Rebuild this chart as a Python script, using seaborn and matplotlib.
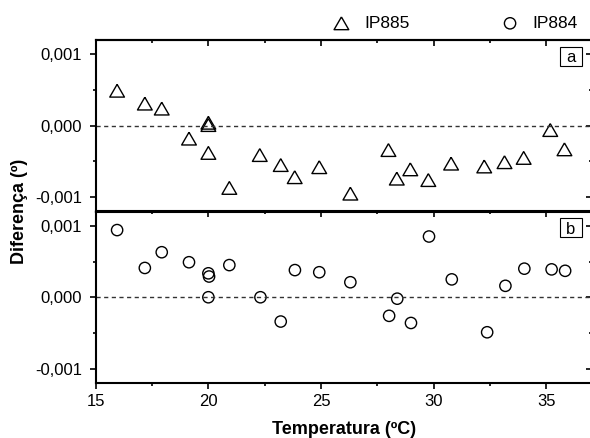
import numpy as np
import pandas as pd
import matplotlib
matplotlib.use("Agg")
import matplotlib.pyplot as plt
from matplotlib.patches import Rectangle
from matplotlib.ticker import MultipleLocator, FuncFormatter
import seaborn as sns

# valores
temp_885 = [15.95, 17.18, 17.93, 19.14, 20.0, 20.0, 20.0, 20.93, 22.28, 23.21, 23.83, 24.92,
            26.30, 27.99, 28.36, 28.96, 29.76, 30.77, 32.24, 33.14, 33.99, 35.17, 35.80]
dif_885 = [0.00049, 0.00031, 0.00024, -0.00018, 0.000042, 0.00001, -0.00038, -0.00087,
           -0.00041, -0.00055, -0.00072, -0.00058, -0.00095, -0.00034, -0.00074, -0.00061,
           -0.00076, -0.00053, -0.00057, -0.00051, -0.00045, -0.00006, -0.00033]
temp_884 = [15.95, 17.18, 17.93, 19.14, 20.0, 20.03, 20.0, 20.93, 22.31, 23.21, 23.84, 24.92,
            26.30, 28.02, 28.38, 28.99, 29.79, 30.80, 32.37, 33.18, 34.02, 35.23, 35.83]
dif_884 = [0.00094, 0.00041, 0.00063, 0.00049, 0.000335, 0.00029, 0.0, 0.00045, 0.0,
           -0.00034, 0.00038, 0.00035, 0.00021, -0.00026, -0.00002, -0.00036, 0.00085,
           0.00025, -0.00049, 0.00016, 0.00040, 0.00039, 0.00037]
series = ['IP885', 'IP884']
panels = ['a', 'b']
yticks = [-0.001, 0.0, 0.001]

df885 = pd.DataFrame({'Temperatura': temp_885, 'Diferenca': dif_885})
df884 = pd.DataFrame({'Temperatura': temp_884, 'Diferenca': dif_884})

sns.set_style("ticks")
plt.rcParams['font.family'] = ['Liberation Sans', 'DejaVu Sans']
plt.rcParams.update({'axes.linewidth': 1.5, 'axes.edgecolor': 'black', 'text.color': 'black',
                     'axes.labelcolor': 'black', 'xtick.color': 'black', 'ytick.color': 'black'})

W, H = 590, 438
fig, (ax1, ax2) = plt.subplots(2, 1, figsize=(W / 100, H / 100), dpi=100, sharex=True)
left, right = 95.7, 591.5
top, mid, bot = 40, 211.5, 383
ax1.set_position([left / W, 1 - mid / H, (right - left) / W, (mid - top) / H])
ax2.set_position([left / W, 1 - bot / H, (right - left) / W, (bot - mid) / H])

tri = [(0, 0.866), (-1, -0.866), (1, -0.866), (0, 0.866)]
sns.scatterplot(data=df885, x='Temperatura', y='Diferenca', ax=ax1, marker=tri, s=112,
                facecolor='none', edgecolor='black', linewidth=1.0, label=series[0], legend=False)
sns.scatterplot(data=df884, x='Temperatura', y='Diferenca', ax=ax2, marker='o', s=66,
                facecolor='none', edgecolor='black', linewidth=1.0, label=series[1], legend=False)

fmt = FuncFormatter(lambda v, p: ('%.3f' % v).replace('.', ',').replace('-0,000', '0,000'))
for ax, tag in zip((ax1, ax2), panels):
    ax.axhline(0, color='0.2', lw=1.0, ls=(0, (3, 2.5)), zorder=1)
    ax.set_xlim(15, 37)
    ax.set_ylim(-0.0012, 0.0012)
    ax.set_yticks(yticks)
    ax.yaxis.set_minor_locator(MultipleLocator(0.0005))
    ax.xaxis.set_major_locator(MultipleLocator(5))
    ax.xaxis.set_minor_locator(MultipleLocator(2.5))
    ax.yaxis.set_major_formatter(fmt)
    ax.set_xlabel('')
    ax.set_ylabel('')
    ax.tick_params(axis='both', which='major', length=4.5, width=1.2, labelsize=12, pad=3.5)
    ax.tick_params(axis='both', which='minor', length=2.2, width=1.2)
    ax.tick_params(axis='y', which='major', pad=5.5)
    ax.tick_params(axis='y', left=True, right=False, direction='out')
    ax.tick_params(axis='x', top=False, direction='out')
    # eixos superior e direito com marcas para dentro
    sx = ax.secondary_xaxis('top')
    sx.xaxis.set_major_locator(MultipleLocator(5))
    sx.xaxis.set_minor_locator(MultipleLocator(2.5))
    sx.tick_params(which='major', direction='in', length=4.5, width=1.2, labeltop=False)
    sx.tick_params(which='minor', direction='in', length=2.2, width=1.2)
    sy = ax.secondary_yaxis('right')
    sy.set_yticks(yticks)
    sy.yaxis.set_minor_locator(MultipleLocator(0.0005))
    sy.tick_params(which='major', direction='in', length=4.5, width=1.2, labelright=False)
    sy.tick_params(which='minor', direction='in', length=2.2, width=1.2)
    # caixa com a letra do painel
    ax.add_patch(Rectangle((0.9365, 0.85), 0.0438, 0.111, transform=ax.transAxes,
                           fc='white', ec='black', lw=0.8, zorder=5))
    ax.text(0.9584, 0.905, tag, transform=ax.transAxes, ha='center', va='center_baseline',
            fontsize=12, zorder=6)

ax1.tick_params(axis='x', bottom=False, labelbottom=False)

fig.text((left + right) / 2 / W, 1 - 429 / H, 'Temperatura (ºC)', ha='center', va='center',
         fontsize=13, fontweight='bold')
fig.text(20 / W, 1 - mid / H, 'Diferença (º)', ha='center', va='center', rotation=90,
         fontsize=13, fontweight='bold')

handles = [ax1.collections[0], ax2.collections[0]]
fig.legend(handles=handles, labels=series, loc='center left',
           bbox_to_anchor=(331 / W, 1 - 23.3 / H), ncol=2, frameon=False, fontsize=12.5,
           handlelength=1.2, handletextpad=0.7, columnspacing=5.2, borderpad=0,
           borderaxespad=0, scatterpoints=1)

fig.savefig('out.png', dpi=100)
